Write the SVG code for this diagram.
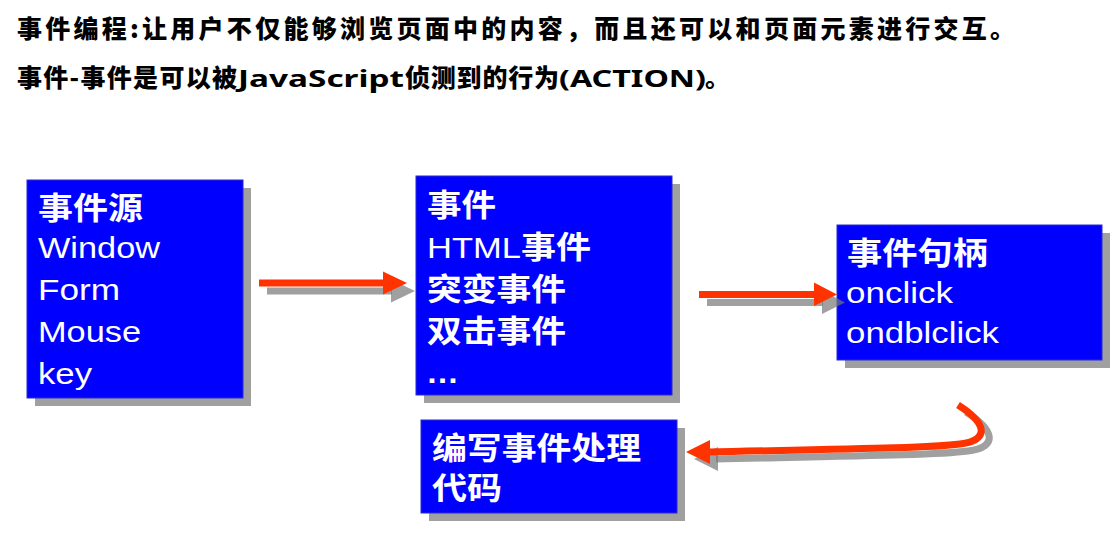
<svg xmlns="http://www.w3.org/2000/svg" width="1120" height="560" viewBox="0 0 1120 560">
<style>
.title{font-family:"Noto Sans CJK SC","Noto Sans",sans-serif;font-weight:900;font-size:25px;fill:#000}
.tlat{font-family:"Noto Sans","Noto Sans CJK SC",sans-serif;font-weight:bold;font-size:24px;fill:#000}
.box{fill:#0000ff;stroke:#2a2ad0;stroke-width:1}
.shadow{fill:#a0a0a0}
.cj{font-family:"Noto Sans CJK SC",sans-serif;font-weight:bold;font-size:31px;fill:#fff}
.lt{font-family:"Liberation Sans",Arial,sans-serif;font-size:29px;fill:#fff}
.arrow{fill:#ff3300}
.arrowline{fill:none;stroke:#ff3300;stroke-width:7}
.ashadow{fill:#777;opacity:0.7}
.ashadowline{fill:none;stroke:#777;stroke-width:7;opacity:0.7}
</style>
<rect width="1120" height="560" fill="#fff"/>
<g id="title">
<text class="title" x="17" y="38" textLength="998" lengthAdjust="spacing">事件编程:让用户不仅能够浏览页面中的内容，而且还可以和页面元素进行交互。</text>
<text class="title" x="17" y="87" font-size="24" textLength="220" lengthAdjust="spacing">事件-事件是可以被</text>
<text class="tlat" x="238" y="87" textLength="166" lengthAdjust="spacingAndGlyphs">JavaScript</text>
<text class="title" x="405" y="87" font-size="24" textLength="154" lengthAdjust="spacing">侦测到的行为</text>
<text class="tlat" x="559" y="87" textLength="147" lengthAdjust="spacingAndGlyphs">(ACTION)</text>
<text class="title" x="705" y="87" font-size="24">。</text>
</g>
<g id="node-source">
<rect class="shadow" x="35" y="188" width="216" height="218"/>
<rect class="box" x="27" y="180" width="216" height="218"/>
<text class="cj" x="38" y="219" textLength="105" lengthAdjust="spacingAndGlyphs">事件源</text>
<text class="lt" x="38" y="258" textLength="122" lengthAdjust="spacingAndGlyphs">Window</text>
<text class="lt" x="38" y="300" textLength="82" lengthAdjust="spacingAndGlyphs">Form</text>
<text class="lt" x="38" y="342" textLength="103" lengthAdjust="spacingAndGlyphs">Mouse</text>
<text class="lt" x="38" y="384" textLength="54" lengthAdjust="spacingAndGlyphs">key</text>
</g>
<g id="node-event">
<rect class="shadow" x="424" y="184" width="256" height="219"/>
<rect class="box" x="416" y="176" width="256" height="219"/>
<text class="cj" x="427" y="216" textLength="69" lengthAdjust="spacingAndGlyphs">事件</text>
<text class="lt" x="427" y="258" textLength="94" lengthAdjust="spacingAndGlyphs">HTML</text>
<text class="cj" x="521" y="258" textLength="70" lengthAdjust="spacingAndGlyphs">事件</text>
<text class="cj" x="427" y="300" textLength="139" lengthAdjust="spacingAndGlyphs">突变事件</text>
<text class="cj" x="427" y="342" textLength="139" lengthAdjust="spacingAndGlyphs">双击事件</text>
<text class="lt" x="426" y="383" font-weight="bold" textLength="33" lengthAdjust="spacingAndGlyphs">…</text>
</g>
<g id="node-handler">
<rect class="shadow" x="845" y="233" width="265" height="135"/>
<rect class="box" x="837" y="225" width="265" height="135"/>
<text class="cj" x="847" y="264" textLength="141" lengthAdjust="spacingAndGlyphs">事件句柄</text>
<text class="lt" x="846" y="303" textLength="107" lengthAdjust="spacingAndGlyphs">onclick</text>
<text class="lt" x="846" y="343" textLength="153" lengthAdjust="spacingAndGlyphs">ondblclick</text>
</g>
<g id="node-code">
<rect class="shadow" x="429" y="428" width="256" height="93"/>
<rect class="box" x="421" y="420" width="256" height="93"/>
<text class="cj" x="432" y="459" textLength="209" lengthAdjust="spacingAndGlyphs">编写事件处理</text>
<text class="cj" x="432" y="499" textLength="70" lengthAdjust="spacingAndGlyphs">代码</text>
</g>
<g id="connectors">
<g transform="translate(8,8)">
<rect class="ashadow" x="259" y="279.5" width="125" height="7"/>
<polygon class="ashadow" points="383,271.5 407,283 383,294.5"/>
</g>
<rect class="arrow" x="259" y="279.5" width="125" height="7"/>
<polygon class="arrow" points="383,271.5 407,283 383,294.5"/>
<g transform="translate(8,8)">
<rect class="ashadow" x="699" y="291" width="116" height="7"/>
<polygon class="ashadow" points="814,282.5 837,294.5 814,306"/>
</g>
<rect class="arrow" x="699" y="291" width="116" height="7"/>
<polygon class="arrow" points="814,282.5 837,294.5 814,306"/>
<g transform="translate(8,7)">
<path class="ashadowline" d="M958,405 C985,422 992,440 960,444 C930,448 850,449 708,452"/>
<polygon class="ashadow" points="710,440 686,452 710,464"/>
</g>
<path class="arrowline" d="M958,405 C985,422 992,440 960,444 C930,448 850,449 708,452"/>
<polygon class="arrow" points="710,440 686,452 710,464"/>
</g>
</svg>
